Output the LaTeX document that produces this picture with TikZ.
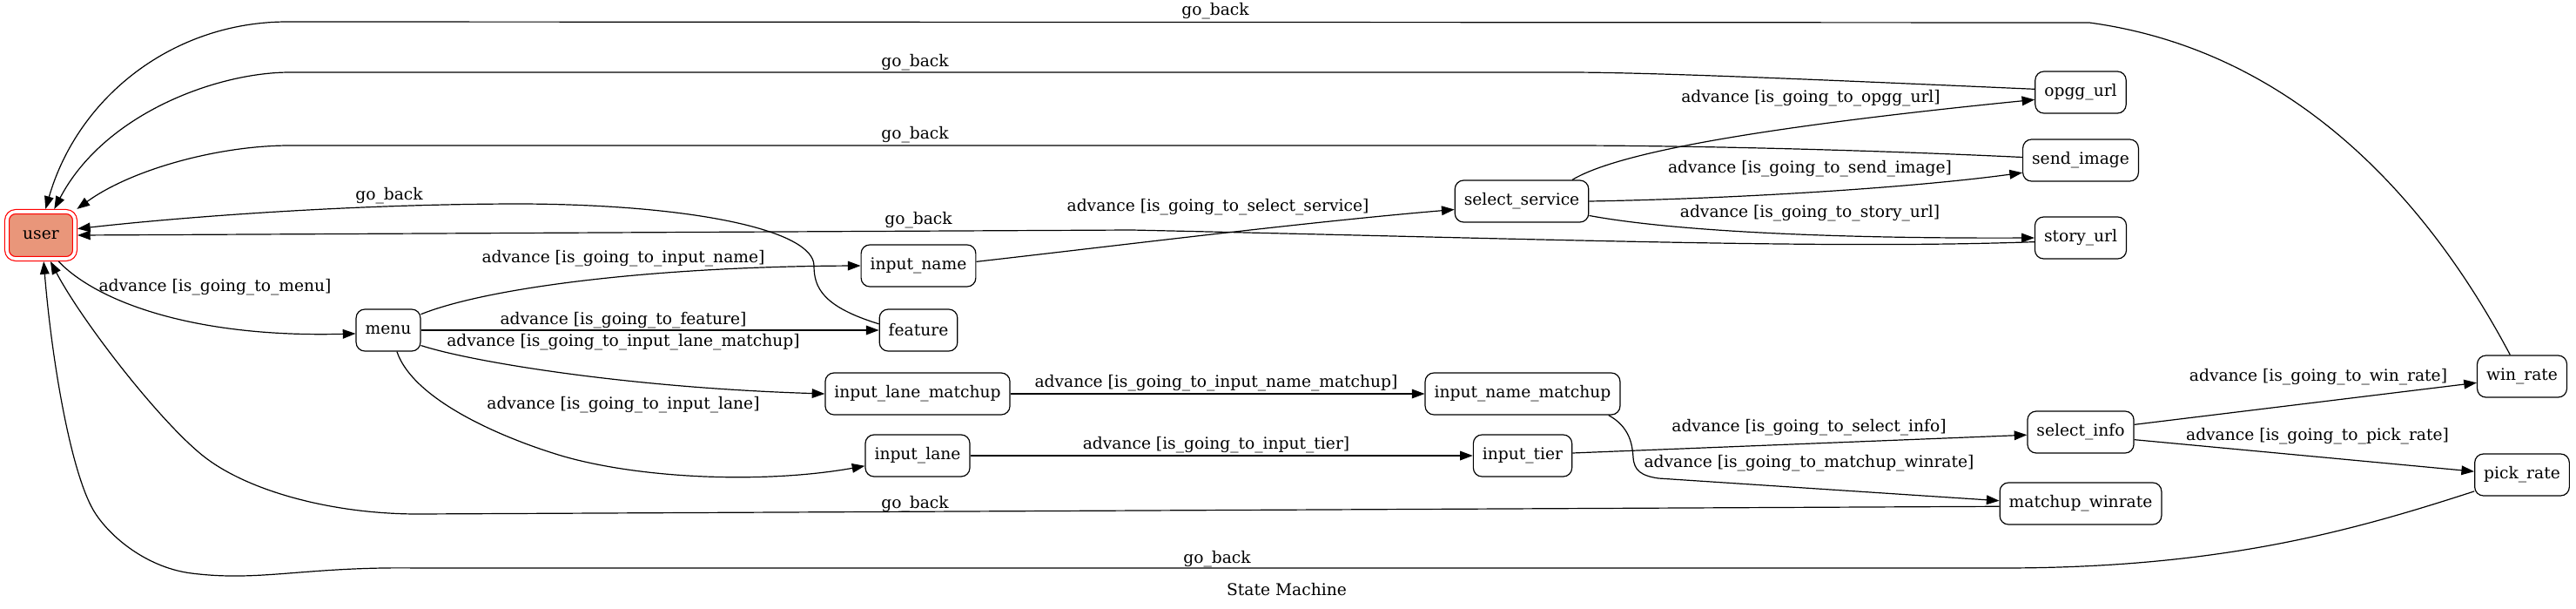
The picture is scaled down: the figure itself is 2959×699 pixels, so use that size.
\documentclass[tikz,border=0pt]{standalone}
\usepackage{fontspec}
\setmainfont{DejaVu Serif}
\usepackage{tikz}
\usetikzlibrary{arrows.meta, calc}

\definecolor{usersalmon}{RGB}{233,150,122}

\tikzset{
  state/.style={draw, rounded corners=7.5pt, minimum height=36pt, minimum width=54pt,
    inner xsep=7.9pt, line width=0.9pt, font=\fontsize{14pt}{17pt}\selectfont},
  userstate/.style={state, fill=usersalmon, draw=red, double=white, double distance=2.75pt,
    minimum width=58.5pt, minimum height=40.5pt, outer sep=2.3pt},
  trans/.style={-{Triangle[length=11pt,width=8pt]}, line width=0.9pt},
  back/.style={trans},
  elabel/.style={inner sep=0pt, font=\fontsize{14pt}{17pt}\selectfont},
}

\begin{document}
\begin{tikzpicture}[x=0.75pt, y=-0.75pt]
\useasboundingbox (0,0) rectangle (2959,699);

% states
\node[userstate] (user) at (47,270) {user};
\node[state] (menu) at (446,379) {menu};
\node[state] (input_name) at (1055,305) {input\_name};
\node[state] (feature) at (1055,379) {feature};
\node[state] (input_lane_matchup) at (1054,452) {input\_lane\_matchup};
\node[state] (input_lane) at (1054,523) {input\_lane};
\node[state] (select_service) at (1748,231) {select\_service};
\node[state] (input_name_matchup) at (1749,452) {input\_name\_matchup};
\node[state] (input_tier) at (1749,523) {input\_tier};
\node[state] (opgg_url) at (2390,106) {opgg\_url};
\node[state] (send_image) at (2390,184) {send\_image};
\node[state] (story_url) at (2390,273) {story\_url};
\node[state] (select_info) at (2390,496) {select\_info};
\node[state] (matchup_winrate) at (2390,578) {matchup\_winrate};
\node[state] (win_rate) at (2897,432) {win\_rate};
\node[state] (pick_rate) at (2897,545) {pick\_rate};

% advance transitions
\draw[trans] (user.-56) .. controls (110,345) and (220,388) .. (menu.186)
  node[elabel] at (247,330) {advance [is\_going\_to\_menu]};
\draw[trans] (menu.26) .. controls (560,330) and (750,306) .. (input_name.west)
  node[elabel] at (716,297) {advance [is\_going\_to\_input\_name]};
\draw[trans] (menu.east) -- (feature.west)
  node[elabel] at (716,368) {advance [is\_going\_to\_feature]};
\draw[trans] (menu.-25) .. controls (540,415) and (720,445) .. (input_lane_matchup.west)
  node[elabel] at (716,393) {advance [is\_going\_to\_input\_lane\_matchup]};
\draw[trans] (menu.-68) .. controls (475,460) and (580,504) .. (648,524)
  .. controls (740,550) and (880,555) .. (input_lane.191)
  node[elabel] at (716,465) {advance [is\_going\_to\_input\_lane]};
\draw[trans] (input_name.4) .. controls (1300,280) and (1500,255) .. (select_service.187)
  node[elabel] at (1399,238) {advance [is\_going\_to\_select\_service]};
\draw[trans] (select_service.23) .. controls (1850,180) and (1980,150) .. (opgg_url.189)
  node[elabel] at (2080,113) {advance [is\_going\_to\_opgg\_url]};
\draw[trans] (select_service.east) .. controls (2000,228) and (2200,215) .. (send_image.192)
  node[elabel] at (2079,194) {advance [is\_going\_to\_send\_image]};
\draw[trans] (select_service.-12) .. controls (1920,265) and (2100,274) .. (story_url.west)
  node[elabel] at (2079,245) {advance [is\_going\_to\_story\_url]};
\draw[trans] (input_lane_matchup.east) -- (input_name_matchup.west)
  node[elabel] at (1397,440) {advance [is\_going\_to\_input\_name\_matchup]};
\draw[trans] (input_lane.east) -- (input_tier.west)
  node[elabel] at (1397,511) {advance [is\_going\_to\_input\_tier]};
\draw[trans] (input_tier.3) -- (select_info.183)
  node[elabel] at (2078,491) {advance [is\_going\_to\_select\_info]};
\draw[trans] (input_name_matchup.-14) .. controls (1872,490) and (1875,510) .. (1876,525)
  .. controls (1877,540) and (1885,546) .. (1905,549) -- (matchup_winrate.178)
  node[elabel] at (2078,532) {advance [is\_going\_to\_matchup\_winrate]};
\draw[trans] (select_info.8) -- (win_rate.188)
  node[elabel] at (2663,433) {advance [is\_going\_to\_win\_rate]};
\draw[trans] (select_info.-8) -- (pick_rate.176)
  node[elabel] at (2662,501) {advance [is\_going\_to\_pick\_rate]};

% go_back transitions
\draw[back] (win_rate.119) .. controls (2800,250) and (2650,60) .. (2400,26) -- (330,25)
  .. controls (200,25) and (90,110) .. (user.80)
  node[elabel] at (1396,13) {go\_back};
\draw[back] (opgg_url.176) .. controls (2100,92) and (1900,83) .. (1800,83) -- (333,83)
  .. controls (250,83) and (120,130) .. (user.63)
  node[elabel] at (1051,72) {go\_back};
\draw[back] (send_image.177) .. controls (2100,170) and (1900,167) .. (1800,167) -- (333,167)
  .. controls (250,167) and (150,195) .. (user.36)
  node[elabel] at (1051,155) {go\_back};
\draw[back] (story_url.185) .. controls (2100,286) and (1800,275) .. (1300,264) -- (user.east)
  node[elabel] at (1055,253) {go\_back};
\draw[back] (feature.171) .. controls (945,352) and (935,330) .. (935,305)
  .. controls (935,265) and (800,235) .. (600,234)
  .. controls (400,234) and (200,250) .. (user.10)
  node[elabel] at (447,225) {go\_back};
\draw[back] (matchup_winrate.182) -- (480,590) .. controls (380,590) and (283,563) .. (233,523)
  .. controls (183,483) and (95,370) .. (user.-70)
  node[elabel] at (1051,579) {go\_back};
\draw[back] (pick_rate.199) .. controls (2700,610) and (2550,652) .. (2300,652) -- (480,652)
  .. controls (350,650) and (300,668) .. (220,658)
  .. controls (172,652) and (130,620) .. (110,590)
  .. controls (83,550) and (60,420) .. (user.-84)
  node[elabel] at (1398,642) {go\_back};

\node[elabel] (caption) at (1478,677) {State Machine};
\end{tikzpicture}
\end{document}
